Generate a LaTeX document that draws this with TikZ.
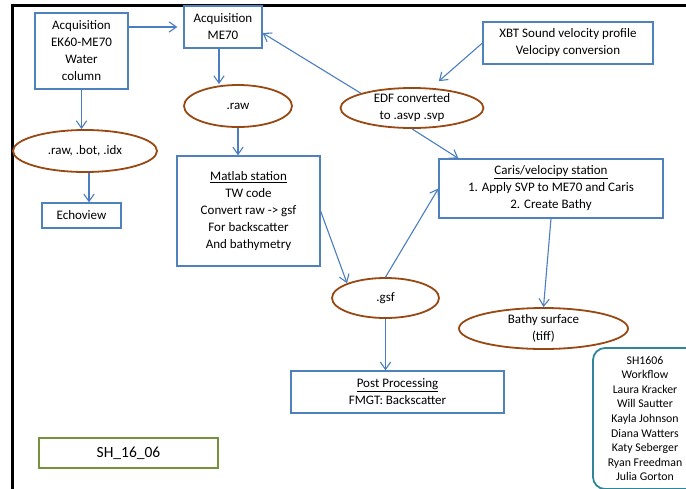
\documentclass[tikz,border=0pt]{standalone}
\usepackage{fontspec}
\setmainfont{Carlito}
\usetikzlibrary{shapes.geometric, arrows.meta}
\definecolor{boxcol}{RGB}{79, 129, 189}
\definecolor{flowcol}{RGB}{74, 126, 193}
\definecolor{blobcol}{RGB}{152, 72, 18}
\definecolor{crewcol}{RGB}{49, 133, 155}
\definecolor{shipcol}{RGB}{118, 146, 60}
\tikzset{
  box/.style={draw=boxcol, line width=1.2pt, fill=white, align=center, inner sep=0pt,
              font=\fontsize{13}{17}\selectfont},
  blob/.style={ellipse, draw=blobcol, line width=1.8pt, fill=white, align=center,
               inner sep=0pt, font=\fontsize{13}{17}\selectfont},
  flow/.style={-{Straight Barb[length=2.6mm, width=3.6mm]}, draw=flowcol, line width=1.1pt},
}

\begin{document}
\begin{tikzpicture}[x=1pt, y=-1pt]
  \useasboundingbox (0,0) rectangle (686,488);
  \clip (0,0) rectangle (686,488);

  % outer frame, cut at right and bottom
  \draw[line width=3pt] (12.5,500) -- (12.5,5.5) -- (700,5.5);

  \node[box, minimum width=93pt, minimum height=76pt] (ek60) at (81.5,51)
    {Acquisition\\EK60-ME70\\Water\\column};
  \node[box, minimum width=78pt, minimum height=42pt] (me70) at (223,27)
    {Acquisition\\ME70};
  \node[blob, minimum width=108pt, minimum height=42pt] (raw) at (238,106) {.raw};
  \node[blob, minimum width=144pt, minimum height=42pt] (rbi) at (85,151) {.raw, .bot, .idx};
  \node[box, minimum width=79pt, minimum height=25pt] (echo) at (81.5,215.5) {Echoview};
  \node[box, minimum width=143pt, minimum height=110pt] (matlab) at (248.5,211)
    {\underline{Matlab station}\\TW code\\Convert raw -> gsf\\For backscatter\\And bathymetry};
  \node[box, minimum width=170pt, minimum height=42pt] (xbt) at (568,43)
    {XBT Sound velocity profile\\Velocipy conversion};
  \node[blob, minimum width=143pt, minimum height=40pt] (edf) at (412,108)
    {EDF converted\\to .asvp .svp};
  \node[box, minimum width=224pt, minimum height=59pt] (caris) at (551,188.5)
    {\underline{Caris/velocipy station}\\1. Apply SVP to ME70 and Caris\\2. Create Bathy};
  \node[blob, minimum width=107pt, minimum height=40pt] (gsf) at (385.5,298) {.gsf};
  \node[blob, minimum width=169pt, minimum height=41pt] (bathy) at (543.5,328.5)
    {Bathy surface\\(tiff)};
  \node[box, minimum width=213pt, minimum height=42pt] (post) at (397.5,392)
    {\underline{Post Processing}\\FMGT: Backscatter};
  \node[box, draw=shipcol, minimum width=179pt, minimum height=30pt,
        font=\fontsize{15.5}{19}\selectfont] (ship) at (128.5,453) {SH\_16\_06};
  \node[box, draw=crewcol, line width=1.8pt, rounded corners=12pt,
        minimum width=104pt, minimum height=141pt,
        font=\fontsize{11.8}{14.6}\selectfont] (crew) at (645,418.5)
    {SH1606\\Workflow\\Laura Kracker\\Will Sautter\\Kayla Johnson\\Diana Watters\\Katy Seberger\\Ryan Freedman\\Julia Gorton};

  \draw[flow, shorten >=6pt] (ek60.east |- me70.west) -- (me70.west);
  \draw[flow] ([xshift=-4pt]me70.south) -- ([xshift=-4pt]me70.south |- raw.north);
  \draw[flow] (ek60.south) -- (ek60.south |- rbi.north);
  \draw[flow] ([xshift=4pt]rbi.south) -- ([xshift=4pt]rbi.south |- echo.north);
  \draw[flow] (raw.south) -- (raw.south |- matlab.north);
  \draw[flow, shorten >=9pt] (xbt.west) -- ([xshift=20pt]edf.north);
  \draw[flow] (edf.north west) -- ([yshift=-6pt]me70.east);
  \draw[flow] (edf.south) -- ([xshift=20pt]caris.north west);
  \draw[flow] (matlab.east) -- (gsf.north west);
  \draw[flow] (gsf.north) -- (caris.west);
  \draw[flow] (caris.south) -- (bathy.north);
  \draw[flow] (gsf.south) -- (gsf.south |- post.north);
\end{tikzpicture}
\end{document}
